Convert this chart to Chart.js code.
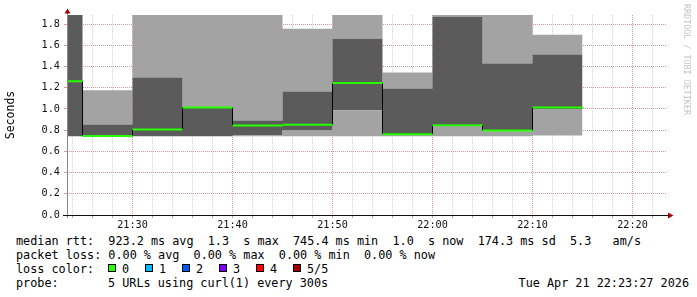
<!DOCTYPE html>
<html>
<head>
<meta charset="utf-8">
<script src="https://cdn.jsdelivr.net/npm/chart.js@4/dist/chart.umd.min.js"></script>
<style>
  html, body { margin: 0; padding: 0; background: #fff; }
  #wrap { position: relative; width: 697px; height: 297px; overflow: hidden; }
  #graph { position: absolute; left: 0; top: 0; }
  .mono { font-family: "DejaVu Sans Mono", monospace; font-size: 11.8px; color: #000; white-space: pre; position: absolute; line-height: 14px; }
  .box { position: absolute; width: 6px; height: 6px; border: 1px solid #000; }
  #mark { position: absolute; left: 682px; top: 4px; writing-mode: vertical-rl; font-family: "DejaVu Sans Mono", monospace; font-size: 8.4px; color: #c4c4c4; white-space: pre; }
</style>
</head>
<body>
<div id="wrap">
  <canvas id="graph" width="697" height="230"></canvas>
  <div id="mark">RRDTOOL / TOBI OETIKER</div>
  <div class="mono" style="left:16px;top:234px">median rtt:  923.2 ms avg  1.3  s max  745.4 ms min  1.0  s now  174.3 ms sd  5.3   am/s</div>
  <div class="mono" style="left:16px;top:248px">packet loss: 0.00 % avg  0.00 % max  0.00 % min  0.00 % now</div>
  <div class="mono" style="left:16px;top:262px">loss color:</div>
  <div id="losses"></div>
  <div class="mono" style="left:16px;top:276px">probe:</div>
  <div class="mono" style="left:108px;top:276px">5 URLs using curl(1) every 300s</div>
  <div class="mono" style="right:8px;top:276px">Tue Apr 21 22:23:27 2026</div>
</div>
<script>
// time axis in minutes after 21:00
const xMin = 23.45, xMax = 83.45;
const binEdges = [23.45, 25, 30, 35, 40, 45, 50, 55, 60, 65, 70, 75];
// smoke bands, seconds (top ones are clipped by the graph)
const pingMin  = [0.743, 0.743, 0.743, 0.743, 0.743, 0.743, 0.743, 0.743, 0.743, 0.743, 0.750];
const pingLow  = [0.743, 0.743, 0.743, 0.743, 0.750, 0.797, 0.988, 0.757, 0.835, 0.790, 1.000];
const pingHigh = [1.890, 0.853, 1.295, 1.010, 0.891, 1.164, 1.662, 1.192, 1.869, 1.427, 1.512];
const pingMax  = [1.890, 1.176, 1.890, 1.890, 1.890, 1.756, 1.890, 1.342, 1.890, 1.890, 1.700];
const median   = [1.260, 0.745, 0.806, 1.013, 0.843, 0.851, 1.245, 0.762, 0.845, 0.797, 1.013];

const lossLabels = ['0', '1', '2', '3', '4', '5/5'];
const lossColors = ['#26ff00', '#00b8ff', '#0059ff', '#7e00ff', '#ff0000', '#a10000'];

const yMax = 1.885;
const LIGHT = '#a3a3a3', DARK = '#5b5b5b';
const MAJOR = 'rgba(210,60,60,0.55)', MINOR = 'rgba(128,128,128,0.35)';

// legend boxes
const losses = document.getElementById('losses');
lossLabels.forEach((lab, i) => {
  const x = 108 + i * 37;
  const b = document.createElement('div');
  b.className = 'box';
  b.style.cssText = `left:${x}px;top:264px;background:${lossColors[i]}`;
  losses.appendChild(b);
  const t = document.createElement('div');
  t.className = 'mono';
  t.style.cssText = `left:${x + 14}px;top:262px`;
  t.textContent = lab;
  losses.appendChild(t);
});

// value of bin i is held from binEdges[i] to binEdges[i+1]
function steps(arr) {
  return binEdges.map((x, i) => ({ x, y: arr[Math.max(i - 1, 0)] }));
}
function medianSegs() {
  const out = [];
  median.forEach((m, i) => {
    out.push({ x: binEdges[i], y: m }, { x: binEdges[i + 1], y: m }, { x: binEdges[i + 1], y: null });
  });
  return out;
}
function fmtTime(v) {
  const h = 21 + Math.floor(v / 60), m = v % 60;
  return h + ':' + String(m).padStart(2, '0');
}
const isMajorX = v => v % 10 === 0;
const isMajorY = v => Math.round(v * 10) % 2 === 0;

const band = (data, fill, color) => ({
  data, fill, backgroundColor: color, borderWidth: 0, pointRadius: 0, stepped: 'after', order: 10
});

const arrows = {
  id: 'arrows',
  afterDraw(chart) {
    const c = chart.ctx, a = chart.chartArea;
    c.save();
    c.lineWidth = 1;
    c.strokeStyle = '#888';
    c.beginPath();
    c.moveTo(a.left + 0.5, a.bottom + 3); c.lineTo(a.left + 0.5, 11);
    c.stroke();
    c.strokeStyle = '#111';
    c.beginPath();
    c.moveTo(63, a.bottom + 0.5); c.lineTo(669, a.bottom + 0.5);
    c.stroke();
    c.fillStyle = '#a00000';
    c.beginPath();
    c.moveTo(64.5, 13.5); c.lineTo(70.5, 13.5); c.lineTo(67.5, 8.5); c.closePath(); c.fill();
    c.beginPath();
    c.moveTo(668, 212.5); c.lineTo(668, 218.5); c.lineTo(673.5, 215.5); c.closePath(); c.fill();
    c.restore();
  }
};

new Chart(document.getElementById('graph'), {
  type: 'line',
  data: {
    datasets: [
      band(steps(pingMin), false, LIGHT),
      band(steps(pingLow), '-1', LIGHT),
      band(steps(pingHigh), '-1', DARK),
      band(steps(pingMax), '-1', LIGHT),
      { data: steps(median), stepped: 'after', borderColor: '#000', borderWidth: 1, pointRadius: 0, fill: false, order: 2 },
      { data: medianSegs(), borderColor: lossColors[0], borderWidth: 2, borderCapStyle: 'butt', pointRadius: 0, fill: false, spanGaps: false, order: 1 }
    ]
  },
  options: {
    responsive: false,
    animation: false,
    layout: { padding: { left: 0, top: 15, right: 30, bottom: 0 } },
    plugins: { legend: { display: false }, tooltip: { enabled: false } },
    scales: {
      x: {
        type: 'linear', min: xMin, max: xMax, z: 1,
        afterBuildTicks: s => { s.ticks = []; for (let v = 24; v <= 82; v += 2) s.ticks.push({ value: v }); },
        afterFit: s => { s.height = 15; },
        border: { display: false, dash: [1, 1] },
        grid: {
          color: c => isMajorX(c.tick.value) ? MAJOR : MINOR,
          tickColor: c => isMajorX(c.tick.value) ? '#d99' : '#aaa',
          tickLength: 3, tickBorderDash: []
        },
        ticks: {
          autoSkip: false, maxRotation: 0, padding: 1, color: '#111',
          font: { family: 'DejaVu Sans Mono', size: 10.2 },
          callback: v => isMajorX(v) ? fmtTime(v) : ''
        }
      },
      y: {
        min: 0, max: yMax, z: 1,
        afterBuildTicks: s => { s.ticks = []; for (let i = 0; i <= 18; i++) s.ticks.push({ value: i / 10 }); },
        afterFit: s => { s.width = 67; },
        border: { display: false, dash: [1, 1] },
        grid: {
          color: c => isMajorY(c.tick.value) ? MAJOR : MINOR,
          tickColor: c => isMajorY(c.tick.value) ? '#d99' : '#aaa',
          tickLength: 3, tickBorderDash: []
        },
        ticks: {
          padding: 4, color: '#111',
          font: { family: 'DejaVu Sans Mono', size: 10.2 },
          callback: v => isMajorY(v) ? v.toFixed(1) : ''
        },
        title: { display: true, text: 'Seconds', color: '#000', font: { family: 'DejaVu Sans Mono', size: 11.5 } }
      }
    }
  },
  plugins: [arrows]
});
</script>
</body>
</html>
